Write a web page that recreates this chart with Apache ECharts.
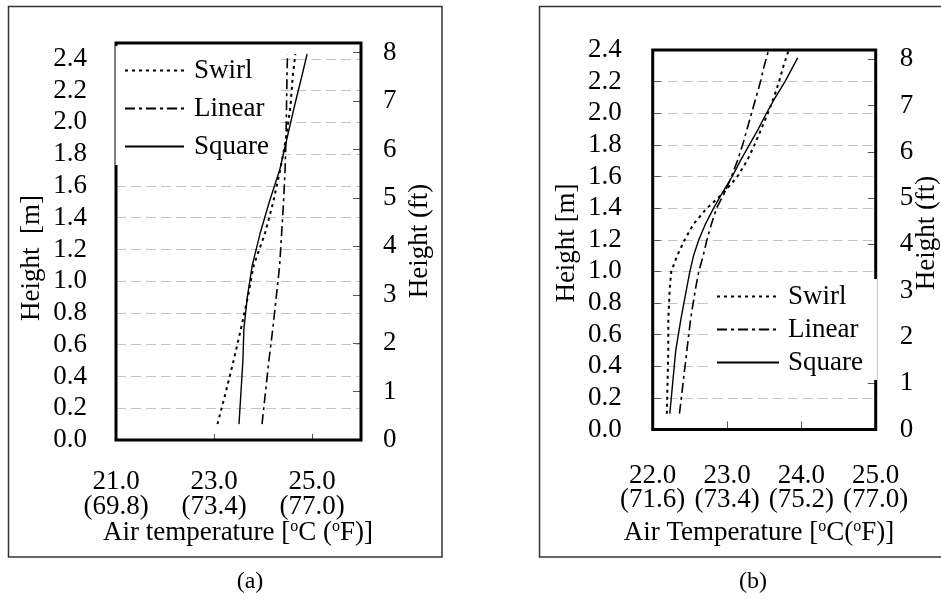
<!DOCTYPE html>
<html>
<head>
<meta charset="utf-8">
<script src="https://cdn.jsdelivr.net/npm/echarts@6/dist/echarts.min.js"></script>
<style>
html,body{margin:0;padding:0;background:#fff;}
#c{width:941px;height:599px;}
</style>
</head>
<body>
<div id="c"></div>
<script>
// ---------- data ----------
const seriesNames = ['Swirl', 'Linear', 'Square'];

// Panel (a)
const heightsA = [0.1, 0.3, 0.5, 0.7, 0.9, 1.1, 1.3, 1.5, 1.7, 1.9, 2.1, 2.3, 2.43];
const swirlA   = [23.07, 23.24, 23.40, 23.55, 23.69, 23.81, 24.04, 24.21, 24.35, 24.47, 24.56, 24.61, 24.66];
const linearA  = [23.98, 24.05, 24.12, 24.20, 24.27, 24.34, 24.38, 24.42, 24.45, 24.47, 24.48, 24.49, 24.50];
const squareA  = [23.51, 23.55, 23.59, 23.61, 23.68, 23.78, 23.94, 24.13, 24.34, 24.49, 24.64, 24.80, 24.90];

// Panel (b)
const heightsB       = [0.1, 0.3, 0.5, 0.7, 0.9, 1.0, 1.1, 1.2, 1.3, 1.4, 1.5, 1.6, 1.7, 1.8, 1.9, 2.0, 2.1, 2.2, 2.3, 2.4];
const swirlB         = [22.19, 22.20, 22.21, 22.21, 22.23, 22.25, 22.33, 22.43, 22.55, 22.73, 22.96, 23.14, 23.27, 23.37, 23.46, 23.55, 23.63, 23.70, 23.76, 23.83];
const linearB        = [22.36, 22.41, 22.46, 22.51, 22.58, 22.62, 22.68, 22.73, 22.79, 22.86, 22.97, 23.06, 23.14, 23.21, 23.27, 23.33, 23.39, 23.45, 23.50, 23.56];
const heightsSquareB = [0.1, 0.3, 0.5, 0.7, 0.9, 1.0, 1.1, 1.2, 1.3, 1.4, 1.5, 1.6, 1.7, 1.8, 1.9, 2.0, 2.1, 2.2, 2.35];
const squareB        = [22.23, 22.27, 22.31, 22.38, 22.46, 22.50, 22.55, 22.62, 22.71, 22.82, 22.94, 23.07, 23.18, 23.30, 23.42, 23.53, 23.65, 23.78, 23.95];

// tick labels
const yTicksM      = [0, 0.2, 0.4, 0.6, 0.8, 1.0, 1.2, 1.4, 1.6, 1.8, 2.0, 2.2, 2.4];
const yTickLabelsM = ['0.0','0.2','0.4','0.6','0.8','1.0','1.2','1.4','1.6','1.8','2.0','2.2','2.4'];
const yTicksFt      = [0, 1, 2, 3, 4, 5, 6, 7, 8];
const yTickLabelsFt = ['0','1','2','3','4','5','6','7','8'];
const xTicksA      = [21, 23, 25];
const xTickLabelsA = ['21.0\n(69.8)', '23.0\n(73.4)', '25.0\n(77.0)'];
const xTicksB      = [22, 23, 24, 25];
const xTickLabelsB = ['22.0\n(71.6)', '23.0\n(73.4)', '24.0\n(75.2)', '25.0\n(77.0)'];

// ---------- helpers ----------
const FONT = "'Liberation Serif', 'Times New Roman', serif";
function pairs(xs, ys) { return xs.map((x, i) => [x, ys[i]]); }
function lookup(ticks, labels) {
  return function (v) {
    for (let i = 0; i < ticks.length; i++) if (Math.abs(ticks[i] - v) < 1e-6) return labels[i];
    return '';
  };
}
const styles = {
  Swirl:  { width: 2,   type: [3, 4] },
  Linear: { width: 1.6, type: [10, 4, 3, 4] },
  Square: { width: 1.4, type: 'solid' }
};
function mkSeries(name, xIdx, yIdx, temps, hs) {
  return {
    name: name, type: 'line', xAxisIndex: xIdx, yAxisIndex: yIdx,
    data: pairs(temps, hs), symbol: 'none', smooth: false,
    color: '#000',
    lineStyle: { color: '#000', width: styles[name].width, type: styles[name].type },
    animation: false, z: 2
  };
}
const labelStyle = { fontFamily: FONT, fontSize: 27, color: '#000' };
const gridLine = { show: true, lineStyle: { color: '#c4c4c4', width: 1, type: [10, 5] } };

const gA = { left: 116, top: 43, width: 245, height: 397 };
const gB = { left: 652.7, top: 50, width: 223, height: 379.5 };

const textBase = { fill: '#000', align: 'center', verticalAlign: 'middle', textAlign: 'center', textVerticalAlign: 'middle' };
function txt(x, y, s, size, rot, rich) {
  const st = Object.assign({ text: s, font: size + 'px ' + FONT }, textBase);
  if (rich) st.rich = rich;
  const el = { type: 'text', z: 5, silent: true, x: x, y: y, style: st };
  if (rot) el.rotation = rot;
  return el;
}
const supRich = { s: { fontSize: 16, fontFamily: FONT, verticalAlign: 'top', padding: [0, 0, 12, 0] } };

const legendCommon = {
  orient: 'vertical', itemHeight: 14, backgroundColor: '#fff', z: 10, selectedMode: false,
  itemStyle: { opacity: 0, color: 'rgba(0,0,0,0)', borderWidth: 0 },
  data: seriesNames
};

const option = {
  backgroundColor: '#fff',
  animation: false,
  grid: [
    Object.assign({ containLabel: false, show: false }, gA),
    Object.assign({ containLabel: false, show: false }, gB)
  ],
  xAxis: [
    { type: 'value', gridIndex: 0, min: 21, max: 26, interval: 2,
      axisLine: { show: false }, splitLine: { show: false },
      axisTick: { show: true, inside: true, length: 6, lineStyle: { color: '#555', width: 1 } },
      axisLabel: Object.assign({ margin: 29, lineHeight: 25, formatter: lookup(xTicksA, xTickLabelsA), showMaxLabel: false }, labelStyle) },
    { type: 'value', gridIndex: 1, min: 22, max: 25, interval: 1,
      axisLine: { show: false }, splitLine: { show: false },
      axisTick: { show: true, inside: true, length: 8, lineStyle: { color: '#555', width: 1 } },
      axisLabel: Object.assign({ margin: 35, lineHeight: 23.5, formatter: lookup(xTicksB, xTickLabelsB) }, labelStyle) }
  ],
  yAxis: [
    { type: 'value', gridIndex: 0, position: 'left', min: 0, max: 2.5, interval: 0.2,
      axisLine: { show: false }, axisTick: { show: false }, splitLine: gridLine,
      axisLabel: Object.assign({ margin: 29, formatter: lookup(yTicksM, yTickLabelsM), showMaxLabel: false }, labelStyle) },
    { type: 'value', gridIndex: 0, position: 'right', min: 0, max: 8.2, interval: 1,
      axisLine: { show: false }, splitLine: { show: false },
      axisTick: { show: true, inside: true, length: 8, lineStyle: { color: '#555', width: 1 } },
      axisLabel: Object.assign({ margin: 22, formatter: lookup(yTicksFt, yTickLabelsFt), showMaxLabel: false }, labelStyle) },
    { type: 'value', gridIndex: 1, position: 'left', min: 0, max: 2.4, interval: 0.2,
      axisLine: { show: false }, splitLine: gridLine,
      axisTick: { show: true, inside: true, length: 8, lineStyle: { color: '#555', width: 1 } },
      axisLabel: Object.assign({ margin: 31, formatter: lookup(yTicksM, yTickLabelsM) }, labelStyle) },
    { type: 'value', gridIndex: 1, position: 'right', min: 0, max: 8.2, interval: 1,
      axisLine: { show: false }, splitLine: { show: false },
      axisTick: { show: true, inside: true, length: 8, lineStyle: { color: '#555', width: 1 } },
      axisLabel: Object.assign({ margin: 24, formatter: lookup(yTicksFt, yTickLabelsFt), showMaxLabel: false }, labelStyle) }
  ],
  legend: [
    Object.assign({}, legendCommon, {
      left: 115.5, top: 46, itemWidth: 59, itemGap: 11, padding: [11, 10, 5, 8.5],
      textStyle: { fontFamily: FONT, fontSize: 27, color: '#000', lineHeight: 27, padding: [0, 0, 0, 5] } }),
    Object.assign({}, legendCommon, {
      left: 708, top: 279, itemWidth: 62, itemGap: 6, padding: [4, 14, 4, 8],
      textStyle: { fontFamily: FONT, fontSize: 27, color: '#000', lineHeight: 27, padding: [0, 0, 0, 4] } })
  ],
  series: [
    mkSeries('Swirl', 0, 0, swirlA, heightsA),
    mkSeries('Linear', 0, 0, linearA, heightsA),
    mkSeries('Square', 0, 0, squareA, heightsA),
    mkSeries('Swirl', 1, 2, swirlB, heightsB),
    mkSeries('Linear', 1, 2, linearB, heightsB),
    mkSeries('Square', 1, 2, squareB, heightsSquareB)
  ],
  graphic: [
    { type: 'rect', z: 1, silent: true, shape: { x: 8.5, y: 6.5, width: 433.5, height: 550.5 },
      style: { fill: 'none', stroke: '#333', lineWidth: 1.5 } },
    { type: 'rect', z: 1, silent: true, shape: { x: 539.5, y: 6.5, width: 420, height: 550.5 },
      style: { fill: 'none', stroke: '#333', lineWidth: 1.5 } },
    { type: 'rect', z: 3, silent: true, shape: { x: gA.left, y: gA.top, width: gA.width, height: gA.height },
      style: { fill: 'none', stroke: '#000', lineWidth: 3 } },
    { type: 'rect', z: 3, silent: true, shape: { x: gB.left, y: gB.top, width: gB.width, height: gB.height },
      style: { fill: 'none', stroke: '#000', lineWidth: 3 } },
    txt(32, 258, 'Height  [m]', 27, Math.PI / 2),
    txt(420, 241, 'Height (ft)', 27, Math.PI / 2),
    txt(567, 243, 'Height [m]', 27, Math.PI / 2),
    txt(927, 233, 'Height (ft)', 27, Math.PI / 2),
    txt(238, 533, 'Air temperature [{s|o}C ({s|o}F)]', 27, 0, supRich),
    txt(759, 533, 'Air Temperature [{s|o}C({s|o}F)]', 27, 0, supRich),
    txt(250, 582, '(a)', 24, 0),
    txt(753, 582, '(b)', 24, 0)
  ]
};

const chart = echarts.init(document.getElementById('c'), null, { renderer: 'canvas' });
chart.setOption(option);
</script>
</body>
</html>
